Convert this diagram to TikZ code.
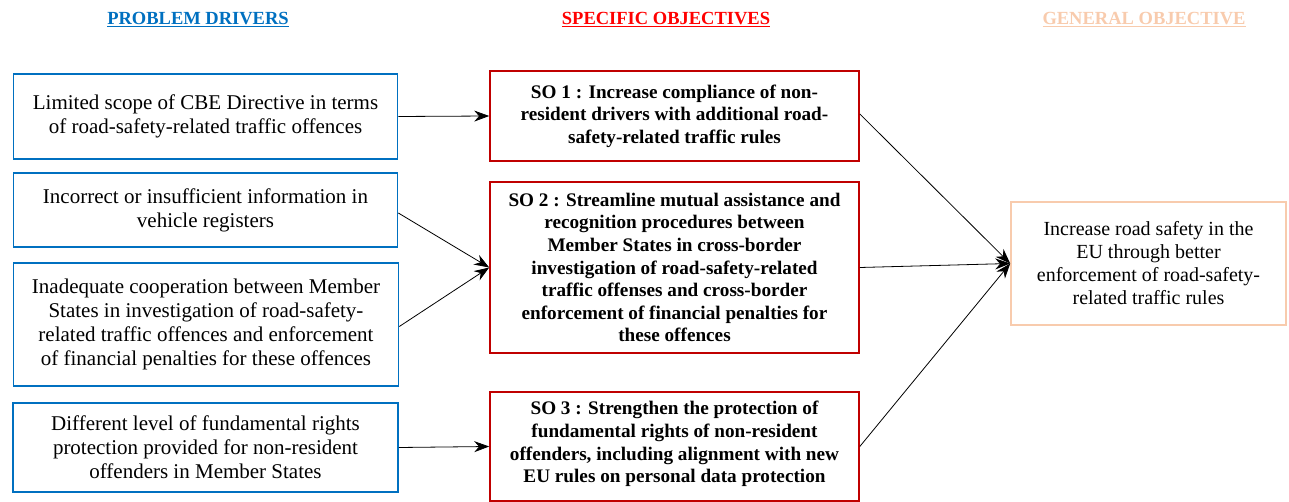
\documentclass[tikz,border=0pt]{standalone}
\usepackage{fontspec}
\setmainfont{Liberation Serif}
\newfontfamily\serf{Liberation Serif}
\usetikzlibrary{arrows.meta}
\definecolor{pdblue}{RGB}{0,112,192}
\definecolor{soRed}{RGB}{192,0,0}
\definecolor{hdRed}{RGB}{255,0,0}
\definecolor{goPeach}{RGB}{248,203,173}
\begin{document}
\begin{tikzpicture}[x=1pt,y=-1pt,
  header/.style={font=\serf\fontsize{18.5}{20}\selectfont\bfseries},
  drv/.style={draw=pdblue,line width=1.6pt,align=center,inner sep=0pt,
    font=\serf\fontsize{21}{24}\selectfont},
  sobox/.style={draw=soRed,line width=1.6pt,align=center,inner sep=0pt,
    font=\serf\fontsize{19.2}{22.6}\selectfont\bfseries},
  gobox/.style={draw=goPeach,line width=1.6pt,align=center,inner sep=0pt,
    font=\serf\fontsize{20}{23}\selectfont},
  conn/.style={draw=black,line width=0.8pt,-{Stealth[length=15pt,width=11pt]}}]
\useasboundingbox (0,0) rectangle (1289,502);
% headers
\node[header,text=pdblue] (h1) at (198,20) {\underline{PROBLEM DRIVERS}};
\node[header,text=hdRed] (h2) at (666,20) {\underline{SPECIFIC OBJECTIVES}};
\node[header,text=goPeach] (h3) at (1144,20) {\underline{GENERAL OBJECTIVE}};
% problem drivers
\node[drv,minimum width=384pt,minimum height=85pt] (d1) at (205.5,116.5)
  {Limited scope of CBE Directive in terms\\of road-safety-related traffic offences};
\node[drv,minimum width=384pt,minimum height=74pt] (d2) at (205.5,210)
  {Incorrect or insufficient information in\\vehicle registers};
\node[drv,minimum width=385pt,minimum height=123pt] (d3) at (206,324.5)
  {Inadequate cooperation between Member\\States in investigation of road-safety-\\related traffic offences and enforcement\\of financial penalties for these offences};
\node[drv,minimum width=385pt,minimum height=89pt] (d4) at (205.5,447.5)
  {Different level of fundamental rights\\protection provided for non-resident\\offenders in Member States};
% specific objectives
\node[sobox,minimum width=369pt,minimum height=90pt] (so1) at (674.5,116)
  {SO 1 : Increase compliance of non-\\resident drivers with additional road-\\safety-related traffic rules};
\node[sobox,minimum width=369pt,minimum height=171pt] (so2) at (674.5,267.5)
  {SO 2 : Streamline mutual assistance and\\recognition procedures between\\Member States in cross-border\\investigation of road-safety-related\\traffic offenses and cross-border\\enforcement of financial penalties for\\these offences};
\node[sobox,minimum width=369pt,minimum height=109pt] (so3) at (674.5,446.5)
  {};
\node[font=\serf\fontsize{19.2}{22.6}\selectfont\bfseries,align=center,inner sep=0pt] (so3t) at (674.5,444)
  {SO 3 : Strengthen the protection of\\fundamental rights of non-resident\\offenders, including alignment with new\\EU rules on personal data protection};
% general objective
\node[gobox,minimum width=275pt,minimum height=123pt] (go) at (1148.5,263.5)
  {Increase road safety in the\\EU through better\\enforcement of road-safety-\\related traffic rules};
% connectors
\draw[conn] (d1.east) -- (so1.west);
\draw[conn] ([yshift=-3pt]d2.east) -- (so2.west);
\draw[conn] ([yshift=-2pt]d3.east) -- (so2.west);
\draw[conn] (d4.east) -- (so3.west);
\draw[conn] ([yshift=2pt]so1.east) -- (go.west);
\draw[conn] (so2.east) -- (go.west);
\draw[conn] (so3.east) -- (go.west);
\end{tikzpicture}
\end{document}
